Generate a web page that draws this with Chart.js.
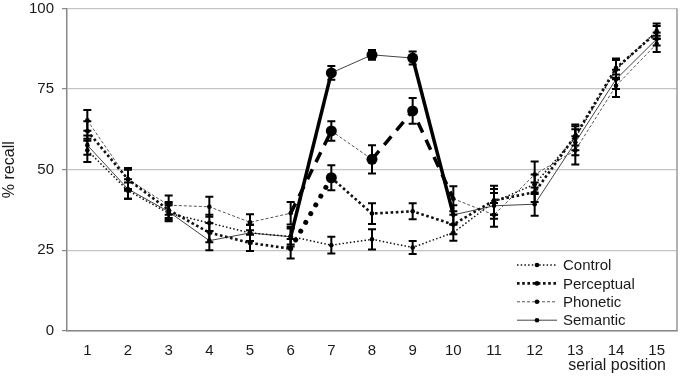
<!DOCTYPE html>
<html>
<head>
<meta charset="utf-8">
<style>
  html, body { margin: 0; padding: 0; background: #fff; }
  #wrap { position: relative; width: 680px; height: 377px; }
</style>
<script src="https://cdn.jsdelivr.net/npm/chart.js@4/dist/chart.umd.min.js"></script>
</head>
<body>
<div id="wrap"><canvas id="recall"></canvas></div>
<script>
/* serial position curves, four list conditions, mean % recall ± error */

const positions = ['1', '2', '3', '4', '5', '6', '7', '8', '9', '10', '11', '12', '13', '14', '15'];
const yTicks = [0, 25, 50, 75, 100];

const control    = [56, 43.5, 36.5, 33.5, 30.4, 29.3, 26.6, 28.4, 25.9, 30.5, 40, 45.5, 60, 81, 93];
const perceptual = [62, 47, 37.5, 30.5, 27.3, 25.5, 47.5, 36.4, 37.1, 33, 40.5, 43, 60.5, 81.5, 92.5];
const phonetic   = [65.3, 47, 39, 38.5, 33.7, 36.5, 62, 53.2, 68.2, 41, 36, 48.5, 56, 76, 89];
const semantic   = [57.6, 44, 37, 28, 30.4, 29.2, 80, 85.6, 84.6, 36, 38.8, 39.3, 58.5, 78, 90.5];

const controlErr    = [3.6, 2.5, 2.5, 2.5, 2.5, 2.5, 2.6, 3.1, 2, 2.5, 4, 3, 4, 3, 2.3];
const perceptualErr = [3, 3, 2.5, 3, 2.5, 3, 3.9, 3.2, 2.5, 3, 4.5, 3, 3, 3, 2];
const phoneticErr   = [3.2, 3.5, 3, 3.1, 2.5, 3.5, 3, 4.4, 4, 3.9, 3.7, 4, 4.4, 3.5, 2.5];
const semanticErr   = [3, 3, 2.5, 3, 2.5, 3, 2.1, 1.5, 2, 3, 4, 3.6, 4, 3, 2];

/* segments (index of the start point) drawn heavy, and points drawn large */
const perceptualBold = [5];
const phoneticBold   = [5, 7, 8];
const semanticBold   = [5, 8];
const perceptualBig  = [6];
const phoneticBig    = [6, 7, 8];
const semanticBig    = [6, 7, 8];

const FONT = '"Liberation Sans", Arial, sans-serif';
const INK = '#1a1a1a';

const looks = {
  control:    { width: 1.5, dash: [1.5, 2.2], color: '#111' },
  perceptual: { width: 2.6, dash: [2.6, 2.6], color: '#111' },
  phonetic:   { width: 1,   dash: [3, 2],     color: '#555' },
  semantic:   { width: 1,   dash: [],         color: '#444' }
};
const heavy = {
  perceptual: { width: 5,   dash: [0.1, 10], cap: 'round' },
  phonetic:   { width: 3.5, dash: [11, 8],   cap: 'butt' },
  semantic:   { width: 3.5, dash: [],        cap: 'butt' }
};

function series(label, key, data, err, bold, big) {
  const lk = looks[key];
  const hv = heavy[key];
  function isBold(c) { return hv && bold.indexOf(c.p0DataIndex) >= 0; }
  return {
    label: label,
    data: data,
    errors: err,
    look: lk,
    borderColor: lk.color,
    borderWidth: lk.width,
    borderDash: lk.dash,
    backgroundColor: '#000',
    pointBackgroundColor: '#000',
    pointBorderWidth: 0,
    pointRadius: function (c) { return big.indexOf(c.dataIndex) >= 0 ? 5.5 : 2.3; },
    pointHoverRadius: 0,
    tension: 0,
    segment: {
      borderWidth: function (c) { return isBold(c) ? hv.width : undefined; },
      borderDash: function (c) { return isBold(c) ? hv.dash : undefined; },
      borderCapStyle: function (c) { return isBold(c) ? hv.cap : undefined; },
      borderColor: function (c) { return isBold(c) ? '#000' : undefined; }
    }
  };
}

const errorBars = {
  id: 'errorBars',
  afterDatasetsDraw: function (chart) {
    const ctx = chart.ctx;
    const y = chart.scales.y;
    ctx.save();
    ctx.strokeStyle = '#000';
    ctx.lineWidth = 2;
    ctx.setLineDash([]);
    chart.data.datasets.forEach(function (ds, i) {
      const meta = chart.getDatasetMeta(i);
      meta.data.forEach(function (pt, j) {
        const v = ds.data[j], e = ds.errors[j];
        const top = y.getPixelForValue(v + e), bot = y.getPixelForValue(v - e);
        ctx.beginPath();
        ctx.moveTo(pt.x, top); ctx.lineTo(pt.x, bot);
        ctx.moveTo(pt.x - 4, top); ctx.lineTo(pt.x + 4, top);
        ctx.moveTo(pt.x - 4, bot); ctx.lineTo(pt.x + 4, bot);
        ctx.stroke();
      });
    });
    ctx.restore();
  }
};

const frameAndLegend = {
  id: 'frameAndLegend',
  afterDraw: function (chart) {
    const ctx = chart.ctx;
    const a = chart.chartArea;
    ctx.save();
    /* right edge of the plot frame */
    ctx.strokeStyle = '#999';
    ctx.lineWidth = 1.5;
    ctx.beginPath();
    ctx.moveTo(a.right, a.top); ctx.lineTo(a.right, a.bottom);
    ctx.stroke();

    /* legend, lower right inside the plot */
    ctx.font = '15px ' + FONT;
    ctx.textBaseline = 'middle';
    ctx.textAlign = 'left';
    chart.data.datasets.forEach(function (ds, i) {
      const yy = a.bottom - 66 + i * 18.4;
      const x0 = a.right - 160, x1 = a.right - 120;
      ctx.strokeStyle = ds.look.color;
      ctx.lineWidth = ds.look.width;
      ctx.setLineDash(ds.look.dash);
      ctx.beginPath();
      ctx.moveTo(x0, yy); ctx.lineTo(x1, yy);
      ctx.stroke();
      ctx.setLineDash([]);
      ctx.fillStyle = '#000';
      ctx.beginPath();
      ctx.arc((x0 + x1) / 2, yy, 2.3, 0, Math.PI * 2);
      ctx.fill();
      ctx.fillStyle = INK;
      ctx.fillText(ds.label, x1 + 6, yy + 1);
    });

    /* x axis caption, right aligned under the last ticks */
    ctx.font = '16px ' + FONT;
    ctx.textAlign = 'right';
    ctx.fillText('serial position', a.right - 11, 366);
    ctx.restore();
  }
};

new Chart(document.getElementById('recall'), {
  type: 'line',
  data: {
    labels: positions,
    datasets: [
      series('Control', 'control', control, controlErr, [], []),
      series('Perceptual', 'perceptual', perceptual, perceptualErr, perceptualBold, perceptualBig),
      series('Phonetic', 'phonetic', phonetic, phoneticErr, phoneticBold, phoneticBig),
      series('Semantic', 'semantic', semantic, semanticErr, semanticBold, semanticBig)
    ]
  },
  options: {
    responsive: true,
    maintainAspectRatio: false,
    animation: false,
    events: [],
    layout: { padding: { top: 0, right: 3, left: 0, bottom: 0 } },
    plugins: {
      legend: { display: false },
      tooltip: { enabled: false }
    },
    scales: {
      x: {
        offset: true,
        grid: { display: false },
        border: { color: '#888', width: 1.5 },
        ticks: { color: INK, font: { size: 15, family: FONT }, padding: 3, maxRotation: 0 },
        afterFit: function (s) { s.height = 46; }
      },
      y: {
        min: 0,
        max: 100,
        afterBuildTicks: function (s) { s.ticks = yTicks.map(function (v) { return { value: v }; }); },
        grid: { color: '#c4c4c4', lineWidth: 1.2, tickLength: 5, tickColor: '#888' },
        border: { color: '#888', width: 1.5 },
        /* tiny lineHeight keeps the top label from pushing the plot down */
        ticks: { color: INK, font: { size: 15, family: FONT, lineHeight: 0.05 }, padding: 8 },
        title: { display: true, text: '% recall', color: INK, font: { size: 16, family: FONT }, padding: 0 },
        afterFit: function (s) { s.width = 67; }
      }
    }
  },
  plugins: [errorBars, frameAndLegend]
});
</script>
</body>
</html>
